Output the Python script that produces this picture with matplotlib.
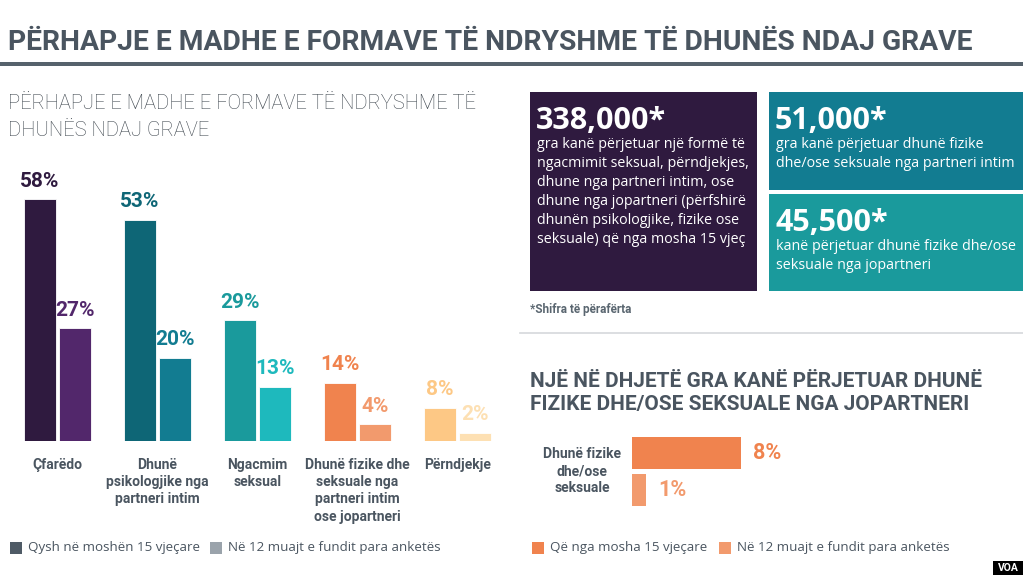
import matplotlib

matplotlib.use("Agg")
import matplotlib.pyplot as plt
from matplotlib.patches import Rectangle

W, H = 1023, 575

# ---- data -----------------------------------------------------------------
categories = [
    "Çfarëdo",
    "Dhunë\npsikologjike nga\npartneri intim",
    "Ngacmim\nseksual",
    "Dhunë fizike dhe\nseksuale nga\npartneri intim\nose jopartneri",
    "Përndjekje",
]
since_15 = [58, 53, 29, 14, 8]
last_12m = [27, 20, 13, 4, 2]
dark_colors = ["#2f1a3f", "#0e6676", "#1a9a9c", "#f0834e", "#fdc885"]
light_colors = ["#52276b", "#127c91", "#1eb9bd", "#f29a6d", "#fde0b3"]

nonpartner_label = "Dhunë fizike\ndhe/ose\nseksuale"
nonpartner_values = [8, 1]
nonpartner_colors = ["#f0834e", "#f29a6d"]

boxes = [
    ("338,000*", "gra kanë përjetuar një formë të\nngacmimit seksual, përndjekjes,\n"
     "dhune nga partneri intim, ose\ndhune nga jopartneri (përfshirë\n"
     "dhunën psikologjike, fizike ose\nseksuale) që nga mosha 15 vjeç"),
    ("51,000*", "gra kanë përjetuar dhunë fizike\ndhe/ose seksuale nga partneri intim"),
    ("45,500*", "kanë përjetuar dhunë fizike dhe/ose\nseksuale nga jopartneri"),
]

GREY = "#4a5560"
COND = ["Roboto", "DejaVu Sans"]
BODY = ["Open Sans", "DejaVu Sans"]


def fx(x):
    return x / W


def fy(y):
    return 1 - y / H


def px_axes(fig, x0, y0, x1, y1):
    return fig.add_axes([fx(x0), fy(y1), (x1 - x0) / W, (y1 - y0) / H])


fig = plt.figure(figsize=(W / 100, H / 100), dpi=100)
fig.patch.set_facecolor("white")

# ---- header ---------------------------------------------------------------
fig.text(fx(8), fy(43), "PËRHAPJE E MADHE E FORMAVE TË NDRYSHME TË DHUNËS NDAJ GRAVE",
         family=COND, weight="bold", size=20.3, color=GREY, va="center")
fig.add_artist(Rectangle((0, fy(66)), 1, 4 / H, transform=fig.transFigure,
                         color="#56626c", lw=0))
fig.text(fx(8), fy(117), "PËRHAPJE E MADHE E FORMAVE TË NDRYSHME TË\nDHUNËS NDAJ GRAVE",
         family=COND, weight="light", size=14.5, color="#3f474f", va="center",
         linespacing=1.5)

# ---- left grouped bar chart -----------------------------------------------
ax = px_axes(fig, 0, 150, 510, 441)
px_per_pct = 4.17
ax.set_xlim(-0.575, 4.525)
ax.set_ylim(0, 291 / px_per_pct)
xs = list(range(len(categories)))
off, bw = 0.175, 0.32
ax.bar([x - off for x in xs], since_15, bw, color=dark_colors, edgecolor="white", lw=0.6)
ax.bar([x + off for x in xs], last_12m, bw, color=light_colors, edgecolor="white", lw=0.6)
for x, v1, v2, c1, c2 in zip(xs, since_15, last_12m, dark_colors, light_colors):
    ax.annotate(f"{v1}%", (x - off, v1), xytext=(0, 9), textcoords="offset points",
                ha="center", va="baseline", family=COND, weight="bold", size=15, color=c1)
    ax.annotate(f"{v2}%", (x + off, v2), xytext=(0, 9), textcoords="offset points",
                ha="center", va="baseline", family=COND, weight="bold", size=15, color=c2)
for x, lab in zip(xs, categories):
    ax.annotate(lab, (x, 0), xytext=(0, -12), textcoords="offset points",
                ha="center", va="top", family=COND, weight="bold", size=10,
                color=GREY, linespacing=1.3, annotation_clip=False)
ax.axis("off")

# left legend
for x0, col, txt in [(10, "#4f5b66", "Qysh në moshën 15 vjeçare"),
                     (210, "#9aa3ab", "Në 12 muajt e fundit para anketës")]:
    fig.add_artist(Rectangle((fx(x0), fy(554)), 12 / W, 12 / H,
                             transform=fig.transFigure, color=col, lw=0))
    fig.text(fx(x0 + 18), fy(548), txt, family=BODY, size=9.6, color=GREY, va="center")

# ---- right: number boxes --------------------------------------------------
box_geom = [(530, 92, 757, 291), (769, 92, 1023, 190), (769, 194, 1023, 291)]
box_colors = ["#2f1a3f", "#127c91", "#1a9a9c"]
for (big, small), (x0, y0, x1, y1), col in zip(boxes, box_geom, box_colors):
    fig.add_artist(Rectangle((fx(x0), fy(y1)), (x1 - x0) / W, (y1 - y0) / H,
                             transform=fig.transFigure, color=col, lw=0))
    fig.text(fx(x0 + 6), fy(y0 + 29), big, family=BODY, weight="bold", size=22,
             color="white", va="center")
    fig.text(fx(x0 + 7), fy(y0 + 45), small, family=BODY, size=10.3, color="white",
             va="top", linespacing=1.37)

fig.text(fx(530), fy(309), "*Shifra të përafërta", family=COND, weight="bold",
         size=8.5, color="#5a6670", va="center")
fig.add_artist(plt.Line2D([fx(520), 1], [fy(333), fy(333)], color="#d5d8db", lw=1.2))

fig.text(fx(530), fy(393), "NJË NË DHJETË GRA KANË PËRJETUAR DHUNË\n"
         "FIZIKE DHE/OSE SEKSUALE NGA JOPARTNERI", family=COND, weight="bold",
         size=15, color=GREY, va="center", linespacing=1.25)

# ---- right: horizontal bars -----------------------------------------------
axh = px_axes(fig, 632, 430, 1010, 512)
axh.set_xlim(0, 378 / 13.6)
axh.set_ylim(82, 0)
ys = [23 + 37 * i for i in range(len(nonpartner_values))]
axh.barh(ys, nonpartner_values, height=32, color=nonpartner_colors, lw=0)
for y, v, c in zip(ys, nonpartner_values, nonpartner_colors):
    axh.annotate(f"{v}%", (v, y), xytext=(9, 0), textcoords="offset points",
                 ha="left", va="center", family=COND, weight="bold", size=15.5, color=c)
axh.axis("off")
fig.text(fx(582), fy(471), nonpartner_label, family=COND, weight="bold", size=10,
         color=GREY, ha="center", va="center", linespacing=1.3)

for x0, col, txt in [(532, "#f0834e", "Që nga mosha 15 vjeçare"),
                     (719, "#f29a6d", "Në 12 muajt e fundit para anketës")]:
    fig.add_artist(Rectangle((fx(x0), fy(554)), 12 / W, 12 / H,
                             transform=fig.transFigure, color=col, lw=0))
    fig.text(fx(x0 + 18), fy(548), txt, family=BODY, size=9.6, color=GREY, va="center")

# VOA logo
fig.add_artist(Rectangle((fx(993), 0), 30 / W, 14 / H, transform=fig.transFigure,
                         color="black", lw=0))
fig.text(fx(1008), fy(568), "VOA", family=COND, weight="bold", size=7.5,
         color="white", ha="center", va="center")

fig.savefig("out.png", dpi=100, facecolor="white")
